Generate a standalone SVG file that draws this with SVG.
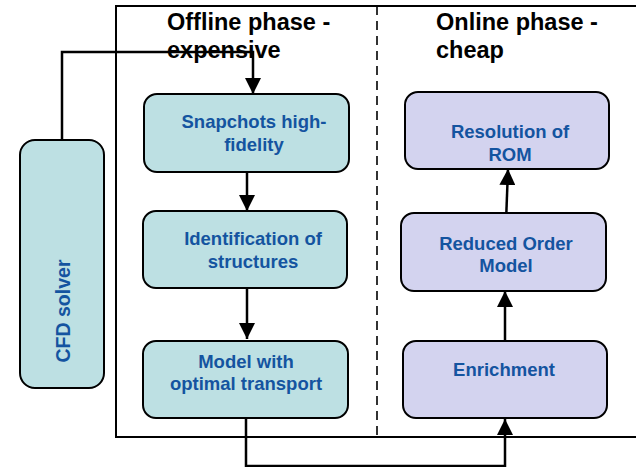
<svg xmlns="http://www.w3.org/2000/svg" width="636" height="467" viewBox="0 0 636 467">
  <style>
    .frame { fill: none; stroke: #000; stroke-width: 2; }
    .divider { fill: none; stroke: #000; stroke-width: 1.6; stroke-dasharray: 9 6; }
    .title { font-family: "Liberation Sans", Arial, sans-serif; font-weight: bold; font-size: 23.5px; fill: #000; }
    .offline rect { fill: #bde0e3; stroke: #000; stroke-width: 2; }
    .online rect { fill: #d3d3ef; stroke: #000; stroke-width: 2; }
    .label { font-family: "Liberation Sans", Arial, sans-serif; font-weight: bold; font-size: 18.5px; fill: #1454a0; text-anchor: middle; }
    .link { fill: none; stroke: #000; stroke-width: 2.5; }
  </style>
  <defs>
    <marker id="arrow" markerUnits="userSpaceOnUse" markerWidth="16" markerHeight="16" viewBox="0 0 16 16" refX="16" refY="8" orient="auto">
      <path d="M0,0 L16,8 L0,16 Z" fill="#000"/>
    </marker>
  </defs>

  <rect x="0" y="0" width="636" height="467" fill="#fff"/>

  <!-- phase frame, running off the right edge -->
  <rect class="frame" x="116" y="6" width="540" height="431"/>
  <line class="divider" x1="377" y1="6" x2="377" y2="437"/>

  <text class="title" x="167" y="30">Offline phase -</text>
  <text class="title" x="167" y="58">expensive</text>
  <text class="title" x="436" y="30">Online phase -</text>
  <text class="title" x="436" y="58">cheap</text>

  <!-- connectors -->
  <g id="connectors">
    <path class="link" d="M62,140 V52 H253 V94" marker-end="url(#arrow)"/>
    <path class="link" d="M247,172 V211" marker-end="url(#arrow)"/>
    <path class="link" d="M247,288 V339" marker-end="url(#arrow)"/>
    <path class="link" d="M246,405 V466 H505 V419" marker-end="url(#arrow)"/>
    <path class="link" d="M505,341 V291" marker-end="url(#arrow)"/>
    <path class="link" d="M506,222 L508,169" marker-end="url(#arrow)"/>
  </g>

  <g id="cfd-solver" class="offline">
    <rect x="20" y="140" width="84" height="248" rx="15"/>
    <text class="label" style="font-size:19.5px" transform="translate(70,311) rotate(-90)" x="0" y="0">CFD solver</text>
  </g>

  <g id="snapshots" class="offline">
    <rect x="144" y="94" width="205" height="78" rx="13"/>
    <text class="label" x="254" y="128">Snapchots high-</text>
    <text class="label" x="254" y="151">fidelity</text>
  </g>

  <g id="identification" class="offline">
    <rect x="143" y="211" width="204" height="77" rx="13"/>
    <text class="label" x="253" y="245">Identification of</text>
    <text class="label" x="253" y="268">structures</text>
  </g>

  <g id="optimal-transport" class="offline">
    <rect x="143" y="341" width="205" height="77" rx="13"/>
    <text class="label" x="246" y="368">Model with</text>
    <text class="label" x="246" y="390">optimal transport</text>
  </g>

  <g id="resolution" class="online">
    <rect x="405" y="92" width="204" height="77" rx="13"/>
    <text class="label" x="510" y="138">Resolution of</text>
    <text class="label" x="510" y="161">ROM</text>
  </g>

  <g id="reduced-order-model" class="online">
    <rect x="401" y="213" width="205" height="78" rx="13"/>
    <text class="label" x="506" y="250">Reduced Order</text>
    <text class="label" x="506" y="272">Model</text>
  </g>

  <g id="enrichment" class="online">
    <rect x="403" y="341" width="204" height="77" rx="13"/>
    <text class="label" x="504" y="376">Enrichment</text>
  </g>
</svg>
